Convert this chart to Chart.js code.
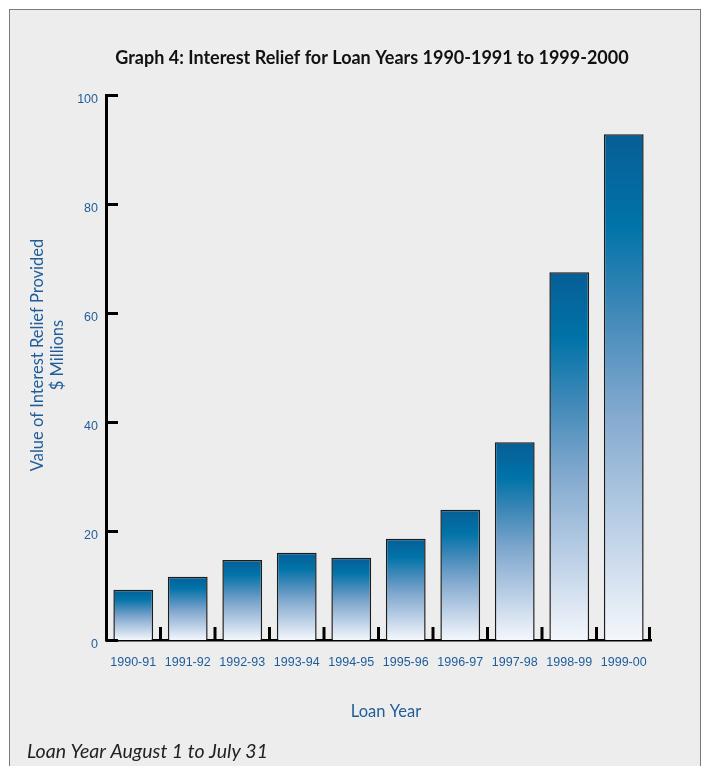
<!DOCTYPE html>
<html>
<head>
<meta charset="utf-8">
<script src="https://cdn.jsdelivr.net/npm/chart.js@4/dist/chart.umd.min.js"></script>
<style>
    body { margin: 0; background: #fff; }
    #frame {
        position: absolute; left: 9px; top: 9px; width: 692px; height: 800px;
        background: #ededed; border: 1px solid #7a7a7a; box-sizing: border-box;
    }
    #wrap { position: absolute; left: 0; top: 0; width: 706px; height: 766px; }
</style>
</head>
<body>
<div id="frame"></div>
<div id="wrap"><canvas id="bar-chart"></canvas></div>
<script>
// 資料
let loanYears = ['1990-91', '1991-92', '1992-93', '1993-94', '1994-95',
    '1995-96', '1996-97', '1997-98', '1998-99', '1999-00'];
let reliefValues = [9.2, 11.6, 14.7, 16.0, 15.1, 18.6, 23.9, 36.3, 67.5, 92.8];
let yTicks = [0, 20, 40, 60, 80, 100];

let chartTitle = 'Graph 4: Interest Relief for Loan Years 1990-1991 to 1999-2000';
let yTitle = ['Value of Interest Relief Provided', '$ Millions'];
let xTitle = 'Loan Year';
let footNote = 'Loan Year August 1 to July 31';

let blue = '#1f5d9a';

// 每根柱子自己的漸層 (上深下白)
let barGradient = (context) => {
    let chart = context.chart;
    if (!chart.chartArea) return '#0072a8';
    let y = chart.scales.y;
    let top = y.getPixelForValue(context.raw);
    let base = y.getPixelForValue(0);
    let g = chart.ctx.createLinearGradient(0, top, 0, base);
    g.addColorStop(0, '#075e96');
    g.addColorStop(0.18, '#0073a8');
    g.addColorStop(0.35, '#3f88b8');
    g.addColorStop(0.55, '#82a9cf');
    g.addColorStop(0.78, '#bcd0e6');
    g.addColorStop(1, '#f4f7fc');
    return g;
}

// 刻度往內畫 + 文字
let decorPlugin = {
    id: 'decor',
    afterDraw: (chart) => {
        let ctx = chart.ctx;
        let x = chart.scales.x;
        let y = chart.scales.y;
        let area = chart.chartArea;
        ctx.save();
        ctx.strokeStyle = '#000';
        ctx.lineWidth = 3;
        // y 刻度
        yTicks.forEach((t) => {
            let py = Math.round(y.getPixelForValue(t)) + 0.5;
            ctx.beginPath();
            ctx.moveTo(area.left, py);
            ctx.lineTo(area.left + 12, py);
            ctx.stroke();
        });
        // x 刻度 (在類別之間)
        for (let i = 1; i <= loanYears.length; i++) {
            let px;
            if (i < loanYears.length) {
                px = (x.getPixelForValue(i - 1) + x.getPixelForValue(i)) / 2;
            } else {
                px = area.right - 1.5;
            }
            ctx.beginPath();
            ctx.moveTo(px, area.bottom);
            ctx.lineTo(px, area.bottom - 13);
            ctx.stroke();
        }

        // 標題
        ctx.fillStyle = '#111';
        ctx.textAlign = 'center';
        ctx.textBaseline = 'middle';
        ctx.font = 'bold 18px Lato';
        ctx.fillText(chartTitle, 372, 58);

        // y 軸標題
        ctx.fillStyle = blue;
        ctx.font = '16.5px Lato';
        ctx.save();
        ctx.translate(38, 355);
        ctx.rotate(-Math.PI / 2);
        ctx.fillText(yTitle[0], 0, 0);
        ctx.fillText(yTitle[1], 0, 20);
        ctx.restore();

        // x 軸標題
        ctx.font = '16.5px Lato';
        ctx.fillText(xTitle, 386, 712);

        // 註解
        ctx.fillStyle = '#222';
        ctx.textAlign = 'left';
        ctx.font = 'italic 19.5px Lato';
        ctx.fillText(footNote, 27, 752);
        ctx.restore();
    }
}

let makeChart = () => {
    new Chart(
        document.getElementById('bar-chart'),
        {
            type: 'bar',
            data: {
                labels: loanYears,
                datasets: [{
                    data: reliefValues,
                    backgroundColor: barGradient,
                    borderColor: '#1c1c1c',
                    borderWidth: 1.5,
                    borderSkipped: 'bottom',
                    categoryPercentage: 1,
                    barPercentage: 0.73
                }]
            },
            options: {
                responsive: false,
                animation: false,
                layout: { padding: { left: 0, right: 55, top: 95, bottom: 0 } },
                plugins: {
                    legend: { display: false },
                    tooltip: { enabled: false }
                },
                scales: {
                    x: {
                        grid: { display: false, drawTicks: false },
                        border: { color: '#000', width: 2.5 },
                        ticks: {
                            color: blue,
                            font: { family: 'Liberation Sans', size: 12.5 },
                            padding: 15,
                            maxRotation: 0
                        },
                        afterFit: (scale) => { scale.height = 126; }
                    },
                    y: {
                        min: 0,
                        max: 100,
                        afterBuildTicks: (scale) => {
                            scale.ticks = yTicks.map((v) => ({ value: v }));
                        },
                        grid: { display: false, drawTicks: false },
                        border: { color: '#000', width: 3 },
                        ticks: {
                            color: blue,
                            font: { family: 'Liberation Sans', size: 12.5 },
                            padding: 8,
                            labelOffset: 5
                        },
                        afterFit: (scale) => { scale.width = 106; }
                    }
                }
            },
            plugins: [decorPlugin]
        }
    );
}

let cv = document.getElementById('bar-chart');
cv.width = 706;
cv.height = 766;
makeChart();
</script>
</body>
</html>
